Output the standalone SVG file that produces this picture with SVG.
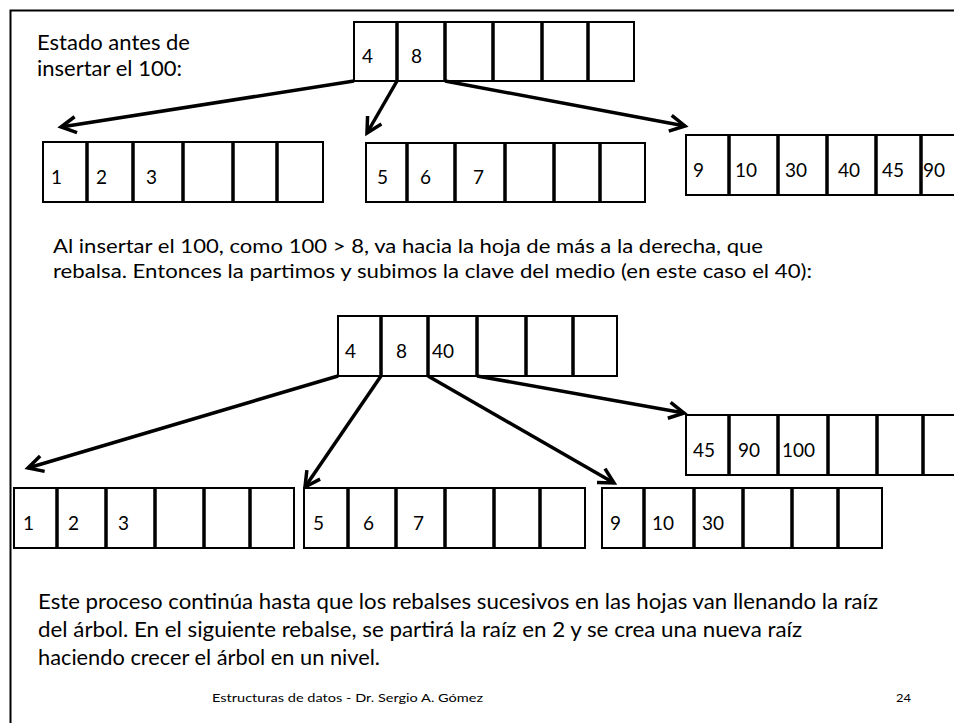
<svg xmlns="http://www.w3.org/2000/svg" width="954" height="723" viewBox="0 0 954 723">
<style>
.bg{fill:#fff}
.cell{fill:#fff;stroke:#000;stroke-width:2}
.div{stroke:#000;stroke-width:3.5}
.num{font-family:Lato,"Liberation Sans",sans-serif;font-size:19px;fill:#000}
.txt{font-family:Lato,"Liberation Sans",sans-serif;fill:#000}
.arr{stroke:#000;stroke-width:3.5;fill:none;marker-end:url(#ah)}
.frame{stroke:#000;stroke-width:2;fill:none}
</style>
<defs>
<marker id="ah" markerUnits="userSpaceOnUse" viewBox="0 0 22 20" markerWidth="22" markerHeight="20" refX="18" refY="10" orient="auto">
<path d="M3,2 L18,10 L3,18" fill="none" stroke="#000" stroke-width="3.5" stroke-linejoin="miter"/>
</marker>
</defs>
<rect class="bg" x="0" y="0" width="954" height="723"/>
<path class="frame" d="M10.5,723 V10.5 H954"/>

<g id="label-top">
<text class="txt" font-size="21" x="37" y="50" textLength="153" lengthAdjust="spacingAndGlyphs">Estado antes de</text>
<text class="txt" font-size="21" x="37" y="76" textLength="145" lengthAdjust="spacingAndGlyphs">insertar el 100:</text>
</g>

<g id="root1">
<rect class="cell" x="354" y="22" width="280" height="59"/>
<path class="div" d="M397,22V81M445,22V81M493,22V81M542,22V81M588,22V81"/>
<text class="num" x="362" y="63">4</text>
<text class="num" x="411" y="63">8</text>
</g>
<g id="leaf1a">
<rect class="cell" x="43" y="142" width="280" height="60"/>
<path class="div" d="M87,142V202M133,142V202M183,142V202M233,142V202M277,142V202"/>
<text class="num" x="51" y="184">1</text>
<text class="num" x="96" y="184">2</text>
<text class="num" x="146" y="184">3</text>
</g>
<g id="leaf1b">
<rect class="cell" x="366" y="143" width="279" height="59"/>
<path class="div" d="M407,143V202M455,143V202M505,143V202M554,143V202M600,143V202"/>
<text class="num" x="377" y="184">5</text>
<text class="num" x="420" y="184">6</text>
<text class="num" x="473" y="184">7</text>
</g>
<g id="leaf1c">
<rect class="cell" x="686" y="135" width="282" height="60"/>
<path class="div" d="M729,135V195M778,135V195M827,135V195M876,135V195M921,135V195"/>
<text class="num" x="693" y="177">9</text>
<text class="num" x="735" y="177">10</text>
<text class="num" x="785" y="177">30</text>
<text class="num" x="838" y="177">40</text>
<text class="num" x="882" y="177">45</text>
<text class="num" x="923" y="177">90</text>
</g>

<g id="label-mid">
<text class="txt" font-size="19.5" x="53" y="253" textLength="710" lengthAdjust="spacingAndGlyphs">Al insertar el 100, como 100 &gt; 8, va hacia la hoja de más a la derecha, que</text>
<text class="txt" font-size="19.5" x="53" y="278" textLength="759" lengthAdjust="spacingAndGlyphs">rebalsa. Entonces la partimos y subimos la clave del medio (en este caso el 40):</text>
</g>

<g id="root2">
<rect class="cell" x="338" y="316" width="279" height="60"/>
<path class="div" d="M381,316V376M428,316V376M477,316V376M526,316V376M573,316V376"/>
<text class="num" x="345" y="358">4</text>
<text class="num" x="396" y="358">8</text>
<text class="num" x="432" y="358">40</text>
</g>
<g id="leaf2a">
<rect class="cell" x="14" y="488" width="280" height="60"/>
<path class="div" d="M57,488V548M106,488V548M155,488V548M204,488V548M250,488V548"/>
<text class="num" x="23" y="530">1</text>
<text class="num" x="68" y="530">2</text>
<text class="num" x="118" y="530">3</text>
</g>
<g id="leaf2b">
<rect class="cell" x="304" y="488" width="281" height="60"/>
<path class="div" d="M348,488V548M396,488V548M445,488V548M494,488V548M540,488V548"/>
<text class="num" x="313" y="530">5</text>
<text class="num" x="363" y="530">6</text>
<text class="num" x="413" y="530">7</text>
</g>
<g id="leaf2c">
<rect class="cell" x="602" y="488" width="280" height="60"/>
<path class="div" d="M644,488V548M694,488V548M743,488V548M792,488V548M838,488V548"/>
<text class="num" x="610" y="530">9</text>
<text class="num" x="652" y="530">10</text>
<text class="num" x="702" y="530">30</text>
</g>
<g id="leaf2d">
<rect class="cell" x="686" y="415" width="282" height="60"/>
<path class="div" d="M729,415V475M778,415V475M828,415V475M877,415V475M923,415V475"/>
<text class="num" x="693" y="457">45</text>
<text class="num" x="738" y="457">90</text>
<text class="num" x="782" y="457">100</text>
</g>

<g id="connectors">
<line class="arr" x1="354" y1="81" x2="61" y2="127"/>
<line class="arr" x1="397" y1="81" x2="367" y2="133"/>
<line class="arr" x1="445" y1="81" x2="685" y2="126"/>
<line class="arr" x1="338" y1="376" x2="28" y2="468"/>
<line class="arr" x1="381" y1="376" x2="305" y2="487"/>
<line class="arr" x1="428" y1="376" x2="614" y2="483"/>
<line class="arr" x1="477" y1="376" x2="684" y2="413"/>
</g>

<g id="label-bottom">
<text class="txt" font-size="22" x="38" y="609" textLength="840" lengthAdjust="spacingAndGlyphs">Este proceso continúa hasta que los rebalses sucesivos en las hojas van llenando la raíz</text>
<text class="txt" font-size="22" x="38" y="637" textLength="764" lengthAdjust="spacingAndGlyphs">del árbol. En el siguiente rebalse, se partirá la raíz en 2 y se crea una nueva raíz</text>
<text class="txt" font-size="22" x="38" y="665" textLength="342" lengthAdjust="spacingAndGlyphs">haciendo crecer el árbol en un nivel.</text>
</g>

<g id="footer">
<text class="txt" font-size="11.5" x="212" y="702" textLength="271" lengthAdjust="spacingAndGlyphs">Estructuras de datos - Dr. Sergio A. Gómez</text>
<text class="txt" font-size="11.5" x="896" y="702" textLength="15" lengthAdjust="spacingAndGlyphs">24</text>
</g>
</svg>
